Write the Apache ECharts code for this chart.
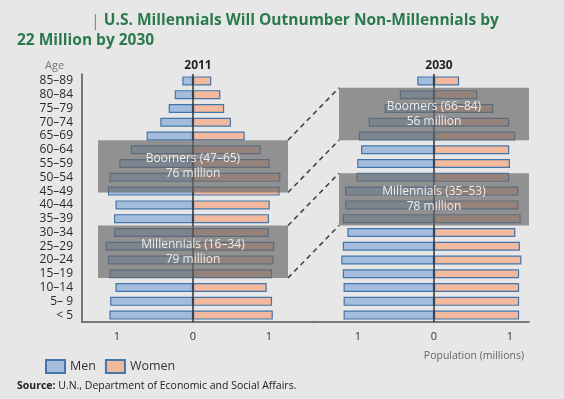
<!DOCTYPE html>
<html>
<head>
<meta charset="utf-8">
<script src="https://cdn.jsdelivr.net/npm/echarts@6/dist/echarts.min.js"></script>
<style>
  html, body { margin: 0; padding: 0; background: #e7e7e7; }
  #chart { width: 564px; height: 399px; }
</style>
</head>
<body>
<div id="chart"></div>
<script>
// age groups, bottom to top
const ages = ['< 5', '5– 9', '10–14', '15–19', '20–24', '25–29', '30–34', '35–39', '40–44',
  '45–49', '50–54', '55–59', '60–64', '65–69', '70–74', '75–79', '80–84', '85–89']

// population, millions
const men2011 = [1.10, 1.09, 1.02, 1.10, 1.12, 1.15, 1.04, 1.04, 1.02, 1.12, 1.10, 0.97, 0.82, 0.61, 0.43, 0.32, 0.24, 0.14]
const women2011 = [1.05, 1.04, 0.97, 1.04, 1.06, 1.07, 1.00, 1.00, 1.01, 1.14, 1.15, 1.01, 0.89, 0.68, 0.50, 0.41, 0.36, 0.24]
const men2030 = [1.19, 1.19, 1.19, 1.20, 1.22, 1.20, 1.14, 1.20, 1.17, 1.17, 1.02, 1.01, 0.96, 0.99, 0.86, 0.65, 0.45, 0.22]
const women2030 = [1.12, 1.12, 1.12, 1.12, 1.15, 1.13, 1.07, 1.14, 1.11, 1.11, 0.99, 1.00, 0.99, 1.07, 0.99, 0.78, 0.57, 0.33]

const tickValues = [-1, 0, 1]

// generation boxes: age from, age to (exclusive), label lines
const gen2011 = [
  { from: 47, to: 66, name: 'Boomers (47–65)', total: '76 million' },
  { from: 16, to: 35, name: 'Millennials (16–34)', total: '79 million' }
]
const gen2030 = [
  { from: 66, to: 85, name: 'Boomers (66–84)', total: '56 million' },
  { from: 35, to: 54, name: 'Millennials (35–53)', total: '78 million' }
]

const FONT = 'Open Sans'
const BOX_HALF = 1.25
const blue = '#a4bddd'
const orange = '#f3b99e'
const edge = '#4275a9'

const chart = echarts.init(document.getElementById('chart'))

function xAxisCfg(gridIndex, min, max) {
  return {
    type: 'value', gridIndex, min, max,
    splitLine: { show: false },
    axisTick: { show: false },
    axisLine: { show: true, onZero: false, lineStyle: { color: '#555', width: 1.5 } },
    axisLabel: {
      customValues: tickValues,
      formatter: v => Math.abs(v),
      color: '#333', fontFamily: FONT, fontSize: 11, margin: 9
    }
  }
}

function barSeries(name, data, idx, color, sign) {
  return {
    name, type: 'bar', stack: 'p' + idx,
    xAxisIndex: idx, yAxisIndex: idx * 2,
    barWidth: 9,
    data: data.map(v => sign * v),
    itemStyle: { color, borderColor: edge, borderWidth: 1.2 },
    z: 2
  }
}

function boxSeries(gens, idx) {
  return {
    type: 'custom',
    xAxisIndex: idx, yAxisIndex: idx * 2 + 1,
    data: gens.map(g => [g.from, g.to]),
    z: 5,
    silent: true,
    renderItem(params, api) {
      const g = gens[params.dataIndex]
      const p1 = api.coord([-BOX_HALF, api.value(1)])
      const p2 = api.coord([BOX_HALF, api.value(0)])
      return {
        type: 'group',
        children: [{
          type: 'rect',
          shape: { x: p1[0], y: p1[1], width: p2[0] - p1[0], height: p2[1] - p1[1] },
          style: { fill: 'rgba(105,105,105,0.68)' }
        }, {
          type: 'text',
          x: (p1[0] + p2[0]) / 2,
          y: (p1[1] + p2[1]) / 2,
          style: {
            text: g.name + '\n' + g.total,
            fill: '#ececec', font: '12px "' + FONT + '"',
            align: 'center', verticalAlign: 'middle', lineHeight: 15
          }
        }]
      }
    }
  }
}

const centerLine = {
  silent: true, symbol: 'none', label: { show: false },
  lineStyle: { color: '#333', width: 1.5, type: 'solid' },
  data: [{ xAxis: 0 }]
}

const series = [
  barSeries('Men', men2011, 0, blue, -1),
  Object.assign(barSeries('Women', women2011, 0, orange, 1), { markLine: centerLine }),
  barSeries('Men', men2030, 1, blue, -1),
  Object.assign(barSeries('Women', women2030, 1, orange, 1), { markLine: centerLine }),
  boxSeries(gen2011, 0),
  boxSeries(gen2030, 1)
]

chart.setOption({
  backgroundColor: '#e7e7e7',
  animation: false,
  textStyle: { fontFamily: FONT },
  title: [{
    text: '{bar||} U.S. Millennials Will Outnumber Non-Millennials by',
    left: 86, top: 8,
    textStyle: {
      color: '#2b7a4e', fontSize: 15.5, fontWeight: 'bold', fontFamily: FONT,
      rich: { bar: { color: '#5f9c78', fontSize: 16, fontWeight: 'normal', fontFamily: FONT } }
    }
  }, {
    text: '22 Million by 2030', left: 12, top: 28,
    textStyle: { color: '#2b7a4e', fontSize: 15.5, fontWeight: 'bold', fontFamily: FONT }
  }, {
    text: 'Age', left: 40, top: 55,
    textStyle: { color: '#777', fontSize: 11, fontWeight: 'normal', fontFamily: FONT }
  }, {
    text: '2011', left: 193, top: 55, textAlign: 'center',
    textStyle: { color: '#222', fontSize: 12, fontWeight: 'bold', fontFamily: FONT }
  }, {
    text: '2030', left: 434, top: 55, textAlign: 'center',
    textStyle: { color: '#222', fontSize: 12, fontWeight: 'bold', fontFamily: FONT }
  }, {
    text: 'Population (millions)', right: 35, top: 346,
    textStyle: { color: '#666', fontSize: 10.5, fontWeight: 'normal', fontFamily: FONT }
  }, {
    text: '{b|Source:} U.N., Department of Economic and Social Affairs.', left: 12, top: 376,
    textStyle: {
      color: '#222', fontSize: 10.5, fontWeight: 'normal', fontFamily: FONT,
      rich: { b: { fontWeight: 'bold', fontSize: 10.5, color: '#222', fontFamily: FONT } }
    }
  }],
  legend: {
    left: 40, top: 354,
    icon: 'rect',
    itemWidth: 19, itemHeight: 13, itemGap: 9,
    data: ['Men', 'Women'],
    textStyle: { color: '#333', fontSize: 12.5, fontFamily: FONT }
  },
  grid: [
    { left: 82, width: 232, top: 74, bottom: 77 },
    { left: 314, width: 215, top: 74, bottom: 77 }
  ],
  xAxis: [
    xAxisCfg(0, -111 / 76, 121 / 76),
    xAxisCfg(1, -120 / 76, 95 / 76)
  ],
  yAxis: [{
    type: 'category', gridIndex: 0, data: ages,
    axisTick: { show: false },
    axisLine: { show: true, onZero: false, lineStyle: { color: '#555', width: 1.5 } },
    axisLabel: { interval: 0, color: '#2a2a2a', fontSize: 12, fontFamily: FONT, margin: 9 }
  }, {
    type: 'value', gridIndex: 0, min: 0, max: 90, show: false
  }, {
    type: 'category', gridIndex: 1, data: ages,
    axisTick: { show: false }, axisLine: { show: false }, axisLabel: { show: false }
  }, {
    type: 'value', gridIndex: 1, min: 0, max: 90, show: false
  }],
  series
})

// dashed connectors between matching generation boxes
const links = []
gen2011.forEach((g, i) => {
  const h = gen2030[i]
  const a1 = chart.convertToPixel({ seriesIndex: 4 }, [BOX_HALF, g.to])
  const a2 = chart.convertToPixel({ seriesIndex: 4 }, [BOX_HALF, g.from])
  const b1 = chart.convertToPixel({ seriesIndex: 5 }, [-BOX_HALF, h.to])
  const b2 = chart.convertToPixel({ seriesIndex: 5 }, [-BOX_HALF, h.from])
  ;[[a1, b1], [a2, b2]].forEach(([p, q]) => {
    links.push({
      type: 'line', silent: true, z: 10,
      shape: { x1: p[0], y1: p[1], x2: q[0], y2: q[1] },
      style: { stroke: '#444', lineWidth: 1.6, lineDash: [5, 4] }
    })
  })
})
chart.setOption({ graphic: links })
</script>
</body>
</html>
